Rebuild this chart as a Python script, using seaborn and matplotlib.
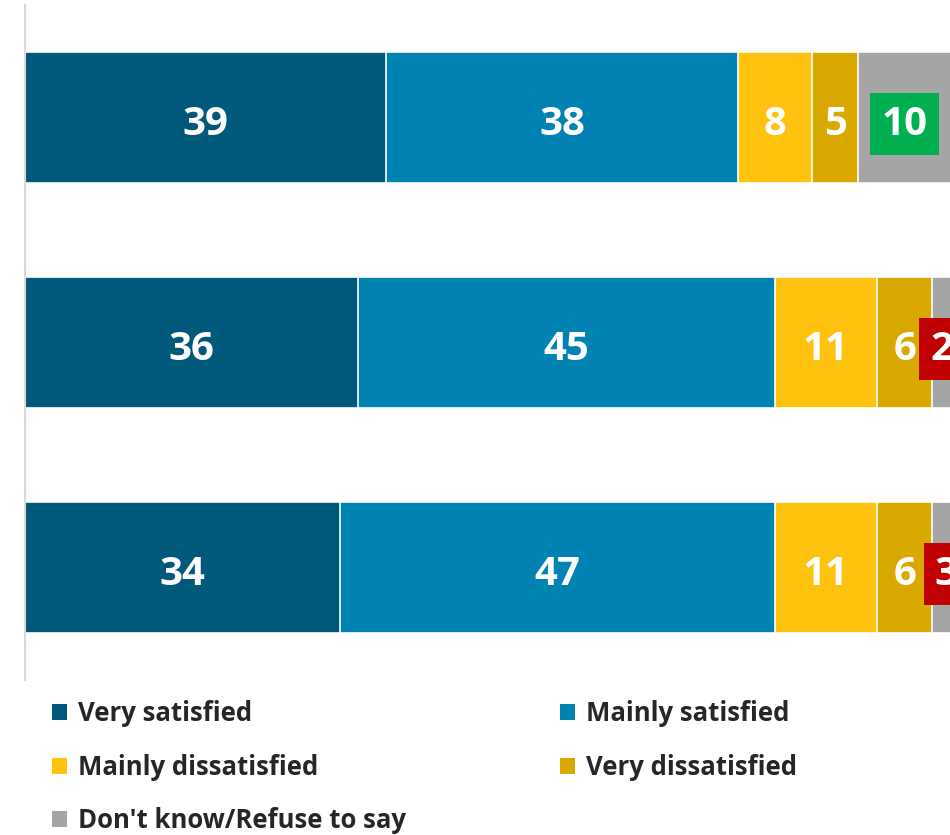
import matplotlib
matplotlib.use("Agg")
import matplotlib.pyplot as plt
import seaborn as sns
import pandas as pd
import numpy as np
from matplotlib.patches import Patch

rows = ["Row A", "Row B", "Row C"]
categories = ["Very satisfied", "Mainly satisfied", "Mainly dissatisfied",
              "Very dissatisfied", "Don't know/Refuse to say"]
very_satisfied = [39, 36, 34]
mainly_satisfied = [38, 45, 47]
mainly_dissatisfied = [8, 11, 11]
very_dissatisfied = [5, 6, 6]
dont_know = [10, 2, 3]
colors = ["#00587A", "#0083B3", "#FFC20E", "#DAA900", "#A5A5A5"]
box_colors = ["#00B050", "#C00000", "#C00000"]

series = [very_satisfied, mainly_satisfied, mainly_dissatisfied,
          very_dissatisfied, dont_know]

sns.set_theme(style="white")
plt.rcParams["font.family"] = ["Open Sans", "DejaVu Sans"]

fig = plt.figure(figsize=(9.5, 8.35), dpi=100)
ax = fig.add_axes([25 / 950, 1 - 680 / 835, 925 / 950, 675 / 835])

# stacked bars: draw cumulative totals, largest first
cum = np.cumsum(np.array(series), axis=0)
for i in range(len(series) - 1, -1, -1):
    df = pd.DataFrame({"row": rows, "value": cum[i]})
    sns.barplot(data=df, x="value", y="row", orient="h", color=colors[i],
                width=0.583, edgecolor="white", linewidth=1.2, ax=ax,
                saturation=1)

for r in range(len(rows)):
    left = 0
    for i, vals in enumerate(series):
        v = vals[r]
        xc = left + v / 2
        yc = r + 0.03
        if i == len(series) - 1:
            ax.text(xc, yc, str(v), ha="center", va="center", color="white",
                    fontsize=29, fontweight="bold",
                    bbox=dict(boxstyle="square,pad=0.28", fc=box_colors[r],
                              ec="none"), clip_on=False)
        else:
            ax.text(xc, yc, str(v), ha="center", va="center", color="white",
                    fontsize=29, fontweight="bold")
        left += v

ax.set_xlim(0, 99.9)
ax.set_ylim(2.5, -0.5)
ax.set_xlabel("")
ax.set_ylabel("")
ax.set_xticks([])
ax.set_yticks([])
for s in ["top", "right", "bottom"]:
    ax.spines[s].set_visible(False)
ax.spines["left"].set_color("#D9D9D9")
ax.spines["left"].set_linewidth(1.5)

handles = [Patch(facecolor=c, edgecolor="none") for c in colors]
order = [0, 2, 4, 1, 3]
fig.legend([handles[k] for k in order], [categories[k] for k in order],
           ncol=2, loc="upper left", bbox_to_anchor=(29 / 950, 1 - 677 / 835),
           frameon=False, prop={"size": 18.5, "weight": "bold"},
           labelcolor="#262626", handlelength=0.58, handleheight=0.58,
           handletextpad=0.42, labelspacing=1.03, columnspacing=6.0)

fig.savefig("out.png", dpi=100)
